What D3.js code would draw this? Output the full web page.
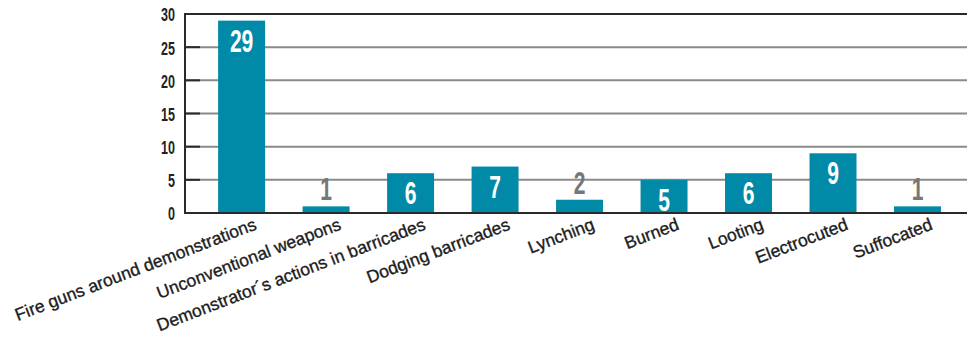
<!DOCTYPE html>
<html>
<head>
<meta charset="utf-8">
<script src="https://cdn.jsdelivr.net/npm/d3@7"></script>
<style>
  html, body { margin: 0; padding: 0; background: #fff; }
  svg { display: block; }
  text { font-family: "Liberation Sans", Arial, sans-serif; }
</style>
</head>
<body>
<svg id="chart" width="967" height="340"></svg>
<script>
// Deaths by circumstance
const categories = [
  "Fire guns around demonstrations",
  "Unconventional weapons",
  "Demonstrator´s actions in barricades",
  "Dodging barricades",
  "Lynching",
  "Burned",
  "Looting",
  "Electrocuted",
  "Suffocated"
];
const values = [29, 1, 6, 7, 2, 5, 6, 9, 1];
const yTicks = [0, 5, 10, 15, 20, 25, 30];

const W = 967, H = 340;
const m = { left: 185, right: 0, top: 14, bottom: 127 };
const svg = d3.select("#chart");

const x = d3.scaleBand()
  .domain(categories)
  .range([m.left, W - m.right])
  .paddingInner(0.444)
  .paddingOuter(0.35)
  .align(0.56);

const y = d3.scaleLinear()
  .domain([0, 30])
  .range([H - m.bottom, m.top]);

const barColor = "#008aa8";
const dark = "#2a2a2a";

// horizontal grid lines (top one drawn dark as a frame)
const grid = svg.append("g");
grid.selectAll("line.g")
  .data(yTicks.filter(t => t > 0))
  .join("line")
  .attr("x1", m.left).attr("x2", W)
  .attr("y1", d => y(d)).attr("y2", d => y(d))
  .attr("stroke", d => d === 30 ? dark : "#8a8a8a")
  .attr("stroke-width", 2);

// short dark ticks inside the axis
grid.selectAll("line.t")
  .data(yTicks.filter(t => t > 0 && t < 30))
  .join("line")
  .attr("x1", m.left).attr("x2", m.left + 15)
  .attr("y1", d => y(d)).attr("y2", d => y(d))
  .attr("stroke", dark)
  .attr("stroke-width", 2);

// bars
svg.append("g").selectAll("rect")
  .data(values)
  .join("rect")
  .attr("x", (d, i) => x(categories[i]))
  .attr("width", x.bandwidth())
  .attr("y", d => y(d))
  .attr("height", d => y(0) - y(d))
  .attr("fill", barColor);

// axis lines
svg.append("line")
  .attr("x1", m.left).attr("x2", m.left)
  .attr("y1", y(30) - 1).attr("y2", y(0) + 1)
  .attr("stroke", dark).attr("stroke-width", 2);
svg.append("line")
  .attr("x1", m.left - 1).attr("x2", W)
  .attr("y1", y(0)).attr("y2", y(0))
  .attr("stroke", dark).attr("stroke-width", 2);

// y tick labels, squeezed horizontally for a condensed look
const tickSX = 0.66;
const yAxis = d3.axisLeft(y).tickValues(yTicks).tickSize(0).tickPadding(0);
const ya = svg.append("g").attr("transform", `translate(${m.left},0)`).call(yAxis);
ya.select(".domain").remove();
ya.selectAll("text")
  .attr("x", -10 / tickSX)
  .attr("dy", "0.36em")
  .attr("transform", `scale(${tickSX},1)`)
  .attr("font-size", 19)
  .attr("font-weight", "bold")
  .attr("fill", "#222");

// value labels
const valSX = 0.68;
svg.append("g").selectAll("text")
  .data(values)
  .join("text")
  .attr("transform", (d, i) => {
    const cx = x(categories[i]) + x.bandwidth() / 2;
    const cy = d >= 5 ? y(d) + 31 : y(d) - 6;
    return `translate(${cx},${cy}) scale(${valSX},1)`;
  })
  .attr("text-anchor", "middle")
  .attr("font-size", 31)
  .attr("font-weight", "bold")
  .attr("fill", d => d >= 5 ? "#fff" : "#777")
  .text(d => d);

// category labels
svg.append("g").selectAll("text")
  .data(categories)
  .join("text")
  .attr("transform", d => `translate(${x(d) + x.bandwidth() / 2 + 16},${y(0) + 16}) rotate(-21)`)
  .attr("text-anchor", "end")
  .attr("font-size", 17.5)
  .attr("fill", "#1c1c1c")
  .attr("stroke", "#1c1c1c")
  .attr("stroke-width", 0.35)
  .text(d => d);
</script>
</body>
</html>
